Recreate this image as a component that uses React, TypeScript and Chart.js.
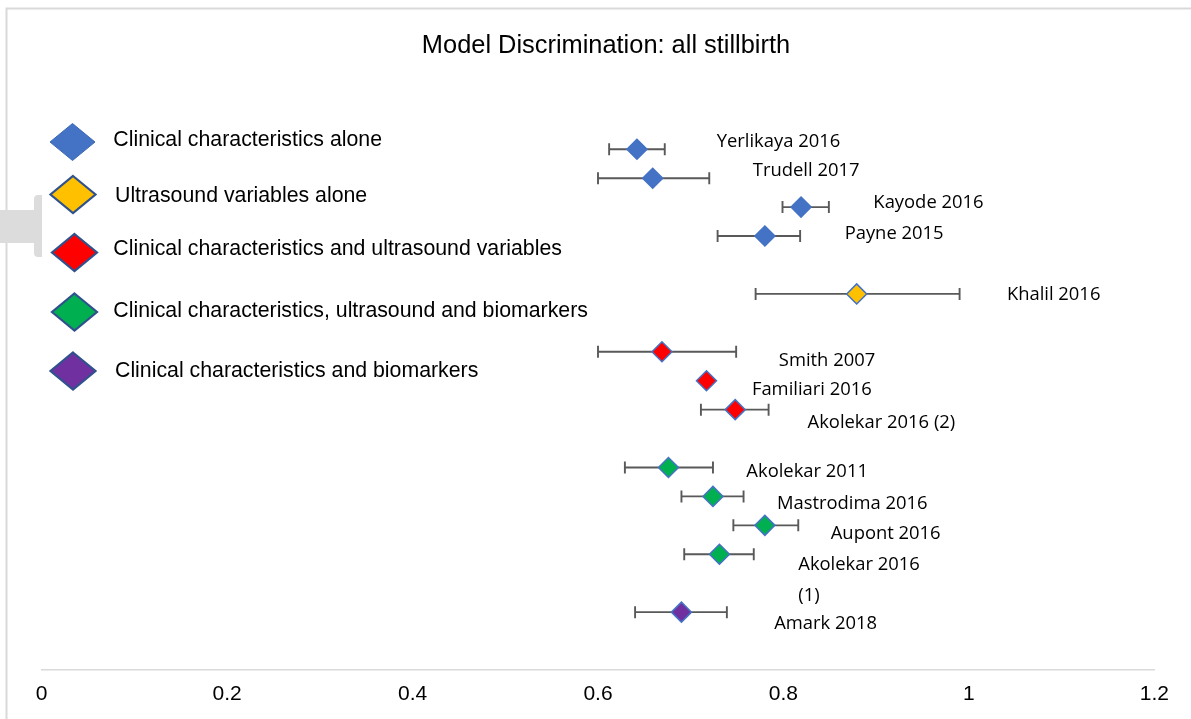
import React, { useEffect, useRef } from "react";
import { Chart, registerables } from "chart.js";
Chart.register(...registerables);

const chartTitle = "Model Discrimination: all stillbirth";

const studies = [
  "Yerlikaya 2016",
  "Trudell 2017",
  "Kayode 2016",
  "Payne 2015",
  "Khalil 2016",
  "Smith 2007",
  "Familiari 2016",
  "Akolekar 2016 (2)",
  "Akolekar 2011",
  "Mastrodima 2016",
  "Aupont 2016",
  "Akolekar 2016\n(1)",
  "Amark 2018",
];
const auc = [0.642, 0.659, 0.819, 0.78, 0.879, 0.669, 0.717, 0.748, 0.676, 0.724, 0.78, 0.731, 0.69];
const ciLow: (number | null)[] = [0.612, 0.6, 0.799, 0.729, 0.77, 0.6, null, 0.711, 0.629, 0.69, 0.746, 0.693, 0.64];
const ciHigh: (number | null)[] = [0.672, 0.72, 0.849, 0.818, 0.99, 0.749, null, 0.784, 0.724, 0.757, 0.816, 0.768, 0.739];
const rowPos = [18, 17, 16, 15, 13, 11, 10, 9, 7, 6, 5, 4, 2];
const groupOf = [0, 0, 0, 0, 1, 2, 2, 2, 3, 3, 3, 3, 4];
// label anchor (left edge, vertical centre) in data units
const labelX = [0.728, 0.767, 0.897, 0.866, 1.041, 0.795, 0.766, 0.826, 0.76, 0.793, 0.851, 0.816, 0.79];
const labelY = [18.31, 17.31, 16.21, 15.12, 13.0, 10.74, 9.72, 8.59, 6.88, 5.8, 4.77, 3.67, 1.64];

const groupNames = [
  "Clinical characteristics alone",
  "Ultrasound variables alone",
  "Clinical characteristics and ultrasound variables",
  "Clinical characteristics, ultrasound and biomarkers",
  "Clinical characteristics and biomarkers",
];
const groupColors = ["#4472C4", "#FFC000", "#FF0000", "#00B050", "#7030A0"];

const tickLabels = ["0", "0.2", "0.4", "0.6", "0.8", "1", "1.2"];

const W = 1191;
const H = 719;

export default function App() {
  const ref = useRef<HTMLCanvasElement>(null);

  useEffect(() => {
    const canvas = ref.current;
    if (!canvas) return;

    const pointSets = groupNames.map((name, g) => ({
      type: "scatter" as const,
      label: name,
      order: 0,
      data: studies
        .map((_, i) => i)
        .filter((i) => groupOf[i] === g)
        .map((i) => ({ x: auc[i], y: rowPos[i] })),
      pointStyle: "rectRot" as const,
      pointRadius: 10,
      pointHoverRadius: 10,
      backgroundColor: groupColors[g],
      pointBackgroundColor: groupColors[g],
      pointBorderColor: "#4472C4",
      pointBorderWidth: 1.5,
      showLine: false,
    }));

    const errData: { x: number | null; y: number | null }[] = [];
    studies.forEach((_, i) => {
      if (ciLow[i] == null || ciHigh[i] == null) return;
      errData.push({ x: ciLow[i], y: rowPos[i] });
      errData.push({ x: ciHigh[i], y: rowPos[i] });
      errData.push({ x: null, y: null });
    });

    const errSet = {
      type: "scatter" as const,
      label: "CI",
      order: 10,
      data: errData,
      showLine: true,
      spanGaps: false,
      borderColor: "#595959",
      borderWidth: 1.9,
      pointStyle: "line" as const,
      pointRotation: 90,
      pointRadius: 6,
      pointHoverRadius: 6,
      pointBorderColor: "#595959",
      pointBorderWidth: 1.9,
    };

    const decor = {
      id: "decor",
      beforeDraw(chart: any) {
        const ctx = chart.ctx as CanvasRenderingContext2D;
        ctx.save();
        ctx.fillStyle = "#ffffff";
        ctx.fillRect(0, 0, chart.width, chart.height);
        // outer frame
        ctx.strokeStyle = "#d9d9d9";
        ctx.lineWidth = 2;
        ctx.beginPath();
        ctx.moveTo(6.5, chart.height + 2);
        ctx.lineTo(6.5, 8.5);
        ctx.lineTo(chart.width + 2, 8.5);
        ctx.stroke();
        // grey handle shape at left
        ctx.fillStyle = "#dcdcdc";
        ctx.fillRect(0, 210, 40, 33);
        ctx.beginPath();
        const x0 = 34, x1 = 42, y0 = 195, y1 = 257, r = 4;
        ctx.moveTo(x0 + r, y0);
        ctx.lineTo(x1, y0);
        ctx.lineTo(x1, y1);
        ctx.lineTo(x0 + r, y1);
        ctx.quadraticCurveTo(x0, y1, x0, y1 - r);
        ctx.lineTo(x0, y0 + r);
        ctx.quadraticCurveTo(x0, y0, x0 + r, y0);
        ctx.fill();
        ctx.restore();
      },
      afterDraw(chart: any) {
        const ctx = chart.ctx as CanvasRenderingContext2D;
        const xs = chart.scales.x;
        const ys = chart.scales.y;
        ctx.save();
        // title
        ctx.fillStyle = "#000000";
        ctx.font = "25.4px 'Liberation Sans', Arial, sans-serif";
        ctx.textAlign = "center";
        ctx.textBaseline = "alphabetic";
        ctx.fillText(chartTitle, 606, 52.7);

        // legend
        const legCx = [72.5, 73, 74.5, 74.5, 73];
        const legCy = [142, 194.5, 252.5, 312, 371];
        const legTx = [113.3, 115, 113.3, 113.3, 115];
        const legTy = [145.7, 201.7, 255.3, 316.7, 377.3];
        ctx.font = "21.3px 'Liberation Sans', Arial, sans-serif";
        ctx.textAlign = "left";
        groupNames.forEach((name, g) => {
          const cx = legCx[g];
          const cy = legCy[g];
          const hw = 22.5;
          const hh = 18.5;
          ctx.beginPath();
          ctx.moveTo(cx, cy - hh);
          ctx.lineTo(cx + hw, cy);
          ctx.lineTo(cx, cy + hh);
          ctx.lineTo(cx - hw, cy);
          ctx.closePath();
          ctx.fillStyle = groupColors[g];
          ctx.fill();
          ctx.lineJoin = "miter";
          ctx.strokeStyle = g === 0 ? "#3d69b8" : "#2F528F";
          ctx.lineWidth = g === 0 ? 1 : 2.2;
          ctx.stroke();
          ctx.fillStyle = "#000000";
          ctx.fillText(name, legTx[g], legTy[g]);
        });

        // point labels
        ctx.font = "18.4px 'Open Sans', sans-serif";
        ctx.fillStyle = "#000000";
        ctx.textAlign = "left";
        ctx.textBaseline = "alphabetic";
        const capH = ctx.measureText("H").actualBoundingBoxAscent || 13;
        studies.forEach((s, i) => {
          const px = xs.getPixelForValue(labelX[i]);
          const py = ys.getPixelForValue(labelY[i]);
          s.split("\n").forEach((line, k) => {
            ctx.fillText(line, px, py + capH / 2 + k * 30.3);
          });
        });
        ctx.restore();
      },
    };

    const chart = new Chart(canvas, {
      type: "scatter",
      data: { datasets: [...pointSets, errSet] as any },
      options: {
        animation: false,
        responsive: true,
        maintainAspectRatio: false,
        devicePixelRatio: 1,
        events: [],
        layout: { padding: { top: 91.4, left: 41.7, right: 36.7, bottom: 0 } },
        plugins: {
          legend: { display: false },
          title: { display: false },
          tooltip: { enabled: false },
        },
        scales: {
          x: {
            type: "linear",
            min: 0,
            max: 1.2,
            position: "bottom",
            grid: { display: false, drawTicks: false },
            border: { display: true, color: "#d9d9d9", width: 1.5 },
            ticks: {
              stepSize: 0.2,
              padding: 12,
              color: "#000000",
              font: { family: "'Liberation Sans', Arial, sans-serif", size: 21 },
              maxRotation: 0,
              callback: (_v: any, i: number) => tickLabels[i] ?? "",
            },
            afterFit: (scale: any) => {
              scale.height = H - 670;
            },
          },
          y: {
            type: "linear",
            min: 0,
            max: 20,
            display: false,
          },
        },
      },
      plugins: [decor],
    });

    return () => chart.destroy();
  }, []);

  return (
    <div style={{ position: "absolute", left: 0, top: 0, width: W, height: H, background: "#fff" }}>
      <canvas ref={ref} />
    </div>
  );
}
